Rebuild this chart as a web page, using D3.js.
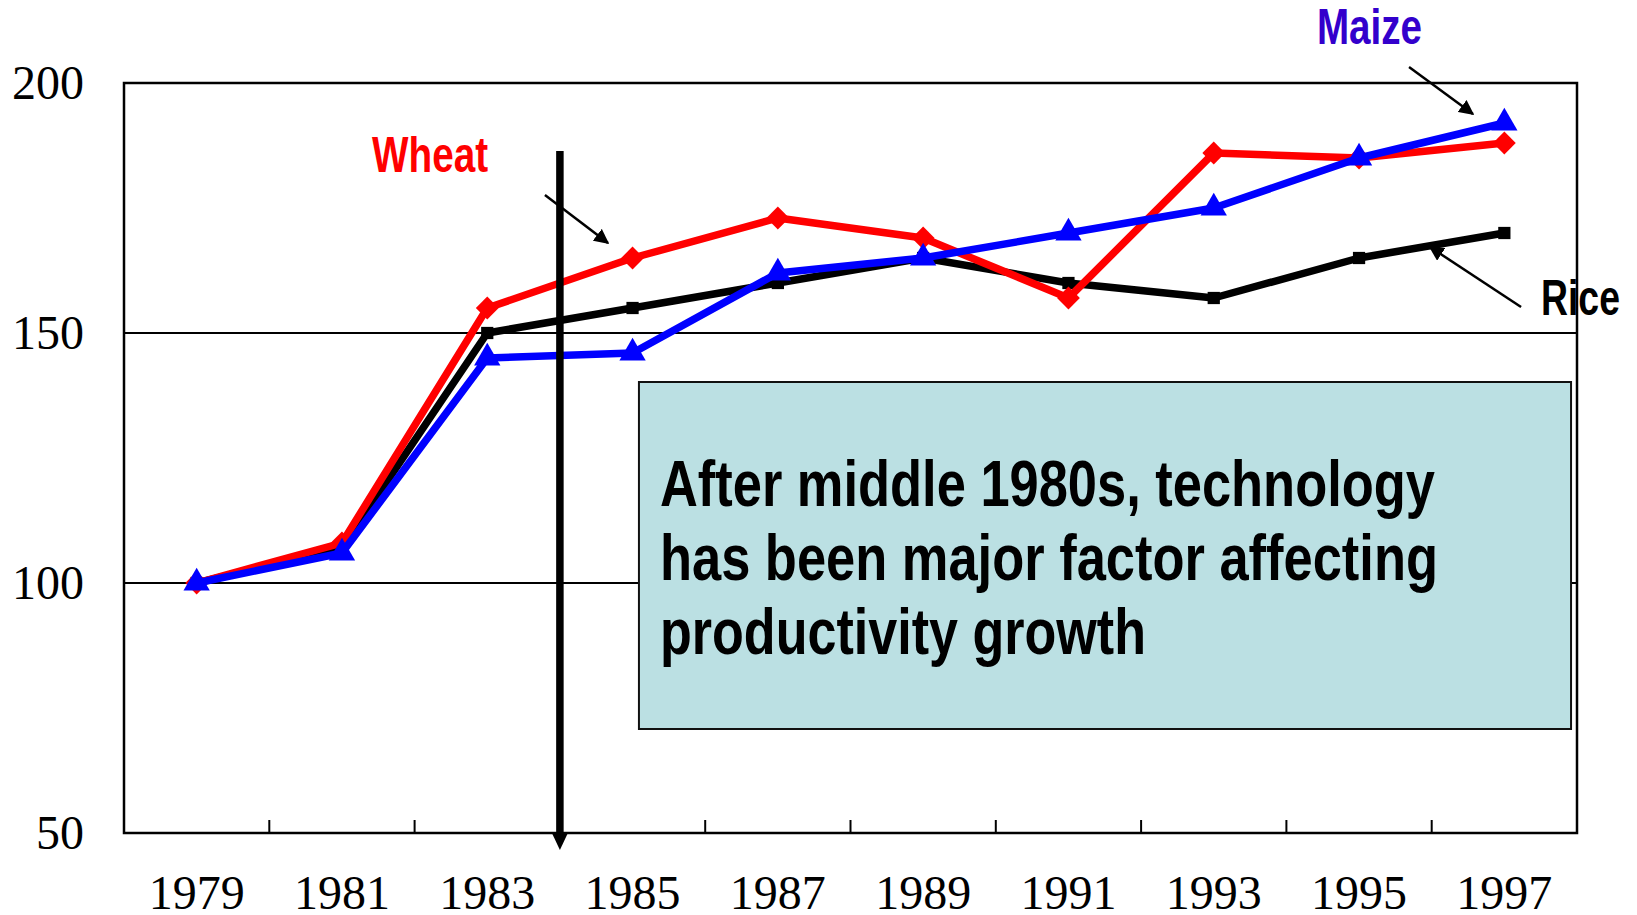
<!DOCTYPE html>
<html>
<head>
<meta charset="utf-8">
<script src="https://cdn.jsdelivr.net/npm/d3@7"></script>
<style>
  body { margin: 0; background: #fff; }
  svg { display: block; }
</style>
</head>
<body>
<div id="chart"></div>
<script>
// data (index, 1979 = 100)
var years = ["1979", "1981", "1983", "1985", "1987", "1989", "1991", "1993", "1995", "1997"]
var wheat = [100, 108, 155, 165, 173, 169, 157, 186, 185, 188]
var rice  = [100, 107, 150, 155, 160, 165, 160, 157, 165, 170]
var maize = [100, 106, 145, 146, 162, 165, 170, 175, 185, 192]
var yTicks = [50, 100, 150, 200]
var gridValues = [100, 150]
var noteLines = ["After middle 1980s, technology", "has been major factor affecting", "productivity growth"]

var width = 1637, height = 915
var margin = { top: 83, right: 60, bottom: 82, left: 124 }
var x0 = margin.left, x1 = width - margin.right
var y0 = height - margin.bottom, y1 = margin.top

var svg = d3.select("#chart").append("svg")
  .attr("width", width)
  .attr("height", height)

var xScale = d3.scaleBand().domain(years).range([x0, x1])
// same axis as a continuous index, used to place the annotations
var xIdx = d3.scaleLinear().domain([-0.5, years.length - 0.5]).range([x0, x1])
var yScale = d3.scaleLinear().domain([50, 200]).range([y0, y1])
var cx = function(i) { return xScale(years[i]) + xScale.bandwidth() / 2 }

// gridlines
svg.append("g").selectAll("line")
  .data(gridValues)
  .enter().append("line")
  .attr("x1", x0).attr("x2", x1)
  .attr("y1", function(d) { return yScale(d) })
  .attr("y2", function(d) { return yScale(d) })
  .style("stroke", "#000")
  .style("stroke-width", 2)

// y axis labels
var yAxis = svg.append("g")
  .attr("transform", "translate(" + x0 + ",0)")
  .call(d3.axisLeft(yScale).tickValues(yTicks).tickSize(0).tickPadding(40).tickFormat(d3.format("d")))
yAxis.select(".domain").remove()
yAxis.selectAll("text")
  .style("font-family", "'Liberation Serif', 'DejaVu Serif', serif")
  .style("font-size", "48px")
  .attr("fill", "#000")

// x axis labels
var xAxis = svg.append("g")
  .attr("transform", "translate(0," + y0 + ")")
  .call(d3.axisBottom(xScale).tickSize(0))
xAxis.select(".domain").remove()
xAxis.selectAll("text")
  .attr("y", 76).attr("dy", 0)
  .style("font-family", "'Liberation Serif', 'DejaVu Serif', serif")
  .style("font-size", "48px")
  .attr("fill", "#000")

// interior ticks at band boundaries
svg.append("g").selectAll("line")
  .data(years.slice(1))
  .enter().append("line")
  .attr("x1", function(d) { return xScale(d) })
  .attr("x2", function(d) { return xScale(d) })
  .attr("y1", y0).attr("y2", y0 - 13)
  .style("stroke", "#000")
  .style("stroke-width", 2)

// plot frame
svg.append("rect")
  .attr("x", x0).attr("y", y1)
  .attr("width", x1 - x0).attr("height", y0 - y1)
  .style("fill", "none")
  .style("stroke", "#000")
  .style("stroke-width", 2.5)

var line = d3.line()
  .x(function(d, i) { return cx(i) })
  .y(function(d) { return yScale(d) })

var series = [
  { name: "Rice", values: rice, color: "#000", symbol: d3.symbolSquare, size: 150, rotate: 0 },
  { name: "Wheat", values: wheat, color: "#ff0000", symbol: d3.symbolSquare, size: 260, rotate: 45 },
  { name: "Maize", values: maize, color: "#0000ff", symbol: d3.symbolTriangle, size: 300, rotate: 0 }
]

series.forEach(function(s) {
  svg.append("path")
    .datum(s.values)
    .attr("d", line)
    .style("fill", "none")
    .style("stroke", s.color)
    .style("stroke-width", 7.5)
    .style("stroke-linejoin", "round")

  svg.append("g").selectAll("path")
    .data(s.values)
    .enter().append("path")
    .attr("d", d3.symbol().type(s.symbol).size(s.size))
    .attr("transform", function(d, i) {
      return "translate(" + cx(i) + "," + yScale(d) + ") rotate(" + s.rotate + ")"
    })
    .style("fill", s.color)
})

// vertical divider between 1983 and 1985, with arrow below the axis
var divX = xScale("1985")
svg.append("line")
  .attr("x1", divX).attr("x2", divX)
  .attr("y1", yScale(186.4)).attr("y2", y0 + 2)
  .style("stroke", "#000")
  .style("stroke-width", 7.5)
svg.append("path")
  .attr("d", "M" + (divX - 8) + "," + y0 + "L" + (divX + 8) + "," + y0 + "L" + divX + "," + (y0 + 17) + "Z")
  .style("fill", "#000")

// note box
var box = { left: 3.044, right: 9.459, top: 140.2, bottom: 70.8 }
var bx = xIdx(box.left), by = yScale(box.top)
svg.append("rect")
  .attr("x", bx).attr("y", by)
  .attr("width", xIdx(box.right) - bx)
  .attr("height", yScale(box.bottom) - by)
  .style("fill", "#bbe0e3")
  .style("stroke", "#111")
  .style("stroke-width", 2)

var noteWidths = [775, 778, 486]
svg.append("g").selectAll("text")
  .data(noteLines)
  .enter().append("text")
  .attr("x", bx + 21)
  .attr("y", function(d, i) { return by + 124 + i * 74 })
  .attr("textLength", function(d, i) { return noteWidths[i] })
  .attr("lengthAdjust", "spacingAndGlyphs")
  .style("font-family", "'Liberation Sans Narrow', 'Arial Narrow', 'Liberation Sans', Arial, sans-serif")
  .style("font-weight", "bold")
  .style("font-size", "64px")
  .style("fill", "#000")
  .text(function(d) { return d })

// series labels and their pointer arrows (positions in data units)
var labels = [
  { text: "Wheat", color: "#ff0000", i: 1.207, v: 182.2, w: 116 },
  { text: "Maize", color: "#3300cc", i: 7.71, v: 207.8, w: 105 },
  { text: "Rice", color: "#000", i: 9.252, v: 153.6, w: 79 }
]
var arrows = [
  { from: [2.397, 177.6], to: [2.831, 168.0] },
  { from: [8.344, 203.2], to: [8.784, 193.8] },
  { from: [9.115, 155.2], to: [8.488, 167.2] }
]

svg.append("defs").append("marker")
  .attr("id", "head")
  .attr("viewBox", "0 0 10 10")
  .attr("refX", 9).attr("refY", 5)
  .attr("markerWidth", 6).attr("markerHeight", 6)
  .attr("markerUnits", "strokeWidth")
  .attr("orient", "auto")
  .append("path")
  .attr("d", "M0,0L10,5L0,10Z")
  .style("fill", "#000")

svg.append("g").selectAll("line")
  .data(arrows)
  .enter().append("line")
  .attr("x1", function(d) { return xIdx(d.from[0]) })
  .attr("y1", function(d) { return yScale(d.from[1]) })
  .attr("x2", function(d) { return xIdx(d.to[0]) })
  .attr("y2", function(d) { return yScale(d.to[1]) })
  .style("stroke", "#000")
  .style("stroke-width", 2.5)
  .attr("marker-end", "url(#head)")

svg.append("g").selectAll("text")
  .data(labels)
  .enter().append("text")
  .attr("x", function(d) { return xIdx(d.i) })
  .attr("y", function(d) { return yScale(d.v) })
  .attr("textLength", function(d) { return d.w })
  .attr("lengthAdjust", "spacingAndGlyphs")
  .style("font-family", "'Liberation Sans Narrow', 'Arial Narrow', 'Liberation Sans', Arial, sans-serif")
  .style("font-weight", "bold")
  .style("font-size", "50px")
  .style("fill", function(d) { return d.color })
  .text(function(d) { return d.text })
</script>
</body>
</html>
